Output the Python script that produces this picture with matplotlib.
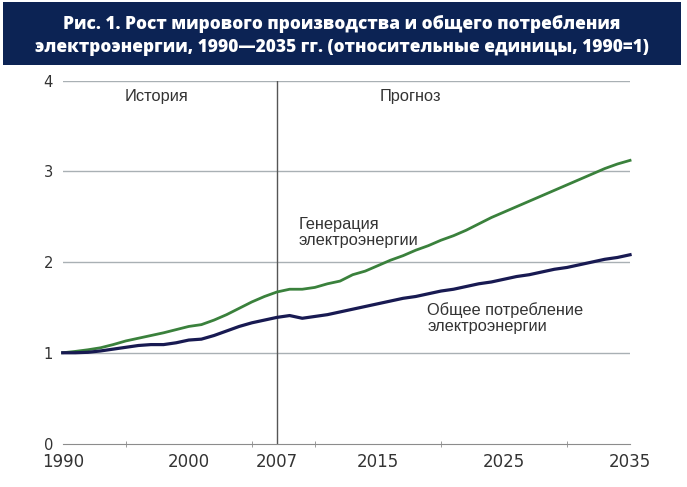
import matplotlib
matplotlib.use("Agg")
import matplotlib.pyplot as plt
from matplotlib.patches import Rectangle

years = list(range(1990, 2036))
generation = [1.00, 1.015, 1.033, 1.055, 1.09, 1.13, 1.16, 1.19, 1.22, 1.255,
              1.29, 1.31, 1.36, 1.42, 1.49, 1.56, 1.62, 1.67, 1.70, 1.70,
              1.72, 1.76, 1.79, 1.86, 1.90, 1.96, 2.02, 2.07, 2.13, 2.18,
              2.24, 2.29, 2.35, 2.42, 2.49, 2.55, 2.61, 2.67, 2.73, 2.79,
              2.85, 2.91, 2.97, 3.03, 3.08, 3.12]
consumption = [1.00, 1.00, 1.005, 1.02, 1.04, 1.06, 1.08, 1.09, 1.09, 1.11,
               1.14, 1.15, 1.19, 1.24, 1.29, 1.33, 1.36, 1.39, 1.41, 1.38,
               1.40, 1.42, 1.45, 1.48, 1.51, 1.54, 1.57, 1.60, 1.62, 1.65,
               1.68, 1.70, 1.73, 1.76, 1.78, 1.81, 1.84, 1.86, 1.89, 1.92,
               1.94, 1.97, 2.00, 2.03, 2.05, 2.08]
split_year = 2007
x_labels = [1990, 2000, 2007, 2015, 2025, 2035]
x_minor = list(range(1990, 2036, 5))
y_ticks = [0, 1, 2, 3, 4]

title = ("Рис. 1. Рост мирового производства и общего потребления\n"
         "электроэнергии, 1990—2035 гг. (относительные единицы, 1990=1)")

fig = plt.figure(figsize=(6.87, 4.87), dpi=100)
fig.patches.append(Rectangle((0.004, 0.866), 0.987, 0.129, transform=fig.transFigure,
                             facecolor="#0c2354", edgecolor="none", zorder=0))
fig.text(0.497, 0.927, title, ha="center", va="center", color="white",
         fontsize=12.45, fontweight="heavy", family=["Open Sans", "DejaVu Sans"],
         linespacing=1.45)

ax = fig.add_axes([0.0913, 0.0893, 0.8258, 0.7454])
ax.set_xlim(1990, 2035)
ax.set_ylim(0, 4)
for s in ["top", "right", "left"]:
    ax.spines[s].set_visible(False)
ax.spines["bottom"].set_color("#8c8c8c")
ax.set_yticks(y_ticks)
ax.set_yticklabels([str(v) for v in y_ticks])
ax.tick_params(axis="y", length=0, labelsize=10.6, labelcolor="#333333", pad=7)
for v in y_ticks[1:]:
    ax.axhline(v, color="#a9b0b4", lw=1, zorder=1)

ax.set_xticks(x_minor, minor=True)
ax.tick_params(axis="x", which="minor", direction="inout", length=5, color="#8c8c8c")
ax.set_xticks(x_labels)
ax.set_xticklabels([str(v) for v in x_labels])
ax.tick_params(axis="x", which="major", length=0, labelsize=12, labelcolor="#333333", pad=7)

ax.axvline(split_year, color="#555555", lw=1, zorder=2)

ax.plot(years, generation, color="#3a813c", lw=2.0, zorder=3, clip_on=False)
ax.plot(years, consumption, color="#181a52", lw=2.3, zorder=4, clip_on=False)

tfont = dict(fontsize=11.8, color="#333333", family=["Liberation Sans", "DejaVu Sans"])
ax.text(1997.4, 3.82, "История", ha="center", va="center", **tfont)
ax.text(2017.6, 3.82, "Прогноз", ha="center", va="center", **tfont)
ax.text(2008.7, 2.33, "Генерация\nэлектроэнергии", ha="left", va="center", linespacing=1.08, **tfont)
ax.text(2018.9, 1.38, "Общее потребление\nэлектроэнергии", ha="left", va="center", linespacing=1.08, **tfont)

fig.savefig("out.png", dpi=100)
